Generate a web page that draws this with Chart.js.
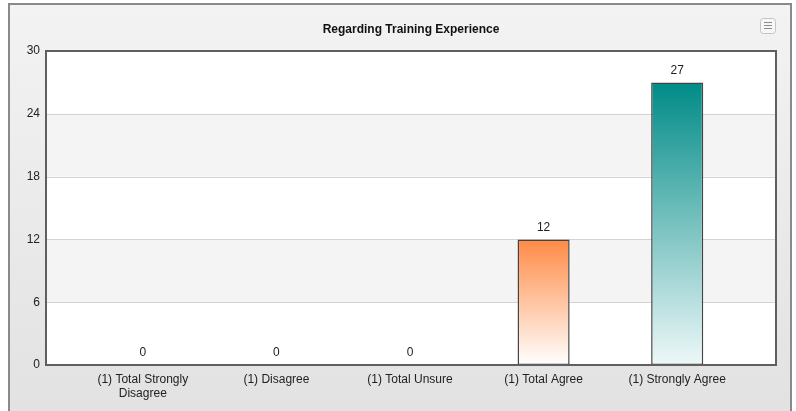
<!DOCTYPE html>
<html>
<head>
<meta charset="utf-8">
<script src="https://cdn.jsdelivr.net/npm/chart.js@4"></script>
<style>
  html, body { margin: 0; padding: 0; background: #fff; }
  #wrap { width: 796px; height: 411px; }
</style>
</head>
<body>
<div id="wrap"><canvas id="barChart" width="796" height="411"></canvas></div>
<script>
var chartTitle = 'Regarding Training Experience';
var categories = [
    ["(1) Total Strongly", "Disagree"],
    "(1) Disagree",
    "(1) Total Unsure",
    "(1) Total Agree",
    "(1) Strongly Agree"
];
var counts = [0, 0, 0, 12, 27];
var yTicks = [0, 6, 12, 18, 24, 30];
var barTopColors = ['#4a7ebb', '#c0504d', '#9bbb59', '#ff8a45', '#008b87'];
var barBottomColors = ['#ffffff', '#ffffff', '#ffffff', '#ffffff', '#eef8f8'];

var FONT = "'Liberation Sans', Arial, sans-serif";

// page background, plot frame, bands, title and value labels
var frame = {
    id: 'frame',
    beforeDraw: function (chart) {
        var c = chart.ctx, a = chart.chartArea, y = chart.scales.y;
        var L = a.left - 30, R = a.right + 32;
        c.save();
        c.fillStyle = '#ffffff';
        c.fillRect(0, 0, chart.width, chart.height);
        var g = c.createLinearGradient(0, 4, 0, chart.height);
        g.addColorStop(0, '#f3f3f3');
        g.addColorStop(1, '#e2e2e2');
        c.fillStyle = g;
        c.fillRect(8, 3, 784, chart.height);
        c.fillStyle = '#8a8a8a';
        c.fillRect(8, 3, 784, 2);
        c.fillRect(8, 3, 2, chart.height);
        c.fillRect(790, 3, 2, chart.height);

        // menu button
        c.fillStyle = '#f7f7f7';
        c.strokeStyle = '#c4c4c4';
        c.lineWidth = 1;
        c.beginPath();
        c.roundRect(760.5, 18.5, 15, 15, 3);
        c.fill();
        c.stroke();
        c.strokeStyle = '#8c8c8c';
        for (var i = 0; i < 3; i++) {
            c.beginPath();
            c.moveTo(764, 22.5 + i * 3);
            c.lineTo(772, 22.5 + i * 3);
            c.stroke();
        }

        // title
        c.fillStyle = '#111111';
        c.font = 'bold 12px ' + FONT;
        c.textAlign = 'center';
        c.textBaseline = 'middle';
        c.fillText(chartTitle, (L + R) / 2, 29.5);

        c.fillStyle = '#ffffff';
        c.fillRect(L, a.top, R - L, a.bottom - a.top);
        c.fillStyle = '#f4f4f4';
        [[6, 12], [18, 24]].forEach(function (b) {
            var t = y.getPixelForValue(b[1]), bt = y.getPixelForValue(b[0]);
            c.fillRect(L, t, R - L, bt - t);
        });
        c.strokeStyle = '#d3d3d3';
        c.lineWidth = 1;
        yTicks.forEach(function (v) {
            var p = Math.round(y.getPixelForValue(v)) + 0.5;
            c.beginPath();
            c.moveTo(L, p);
            c.lineTo(R, p);
            c.stroke();
        });
        c.restore();
    },
    afterDatasetsDraw: function (chart) {
        var c = chart.ctx, a = chart.chartArea;
        var L = a.left - 30, R = a.right + 32;
        c.save();
        c.strokeStyle = '#5f5f5f';
        c.lineWidth = 2;
        c.strokeRect(L, a.top, R - L, a.bottom - a.top);
        c.fillStyle = '#222222';
        c.font = '12px ' + FONT;
        c.textAlign = 'center';
        c.textBaseline = 'middle';
        chart.getDatasetMeta(0).data.forEach(function (bar, i) {
            c.fillText(String(counts[i]), bar.x, bar.y - 12);
        });
        c.restore();
    }
};

var ctx = document.getElementById("barChart");

var myChart = new Chart(ctx, {
    type: 'bar',
    data: {
        labels: categories,
        datasets: [{
            label: chartTitle,
            data: counts,
            backgroundColor: function (context) {
                var chart = context.chart, y = chart.scales.y;
                if (!chart.chartArea || !y) return barTopColors[context.dataIndex];
                var top = y.getPixelForValue(counts[context.dataIndex]);
                var bottom = y.getPixelForValue(0);
                if (bottom - top < 1) return barTopColors[context.dataIndex];
                var g = chart.ctx.createLinearGradient(0, top, 0, bottom);
                g.addColorStop(0, barTopColors[context.dataIndex]);
                g.addColorStop(1, barBottomColors[context.dataIndex]);
                return g;
            },
            borderColor: '#444444',
            borderWidth: 1.5,
            borderSkipped: false,
            barPercentage: 0.39,
            categoryPercentage: 1
        }]
    },
    options: {
        responsive: false,
        animation: false,
        layout: { padding: { left: 8, right: 52, top: 51, bottom: 0 } },
        plugins: {
            legend: { display: false },
            tooltip: { enabled: false },
            title: { display: false }
        },
        scales: {
            x: {
                offset: true,
                grid: { display: false, drawTicks: false },
                border: { display: false },
                ticks: {
                    color: '#222222',
                    padding: 8,
                    maxRotation: 0,
                    autoSkip: false,
                    font: { family: FONT, size: 12, lineHeight: 1.17 }
                },
                afterFit: function (scale) { scale.height = 46; }
            },
            y: {
                min: 0,
                max: 30,
                grid: { display: false, drawTicks: false },
                border: { display: false },
                ticks: {
                    stepSize: 6,
                    color: '#222222',
                    padding: 36,
                    font: { family: FONT, size: 12 }
                },
                afterFit: function (scale) { scale.width = 68; }
            }
        }
    },
    plugins: [frame]
});
</script>
</body>
</html>
